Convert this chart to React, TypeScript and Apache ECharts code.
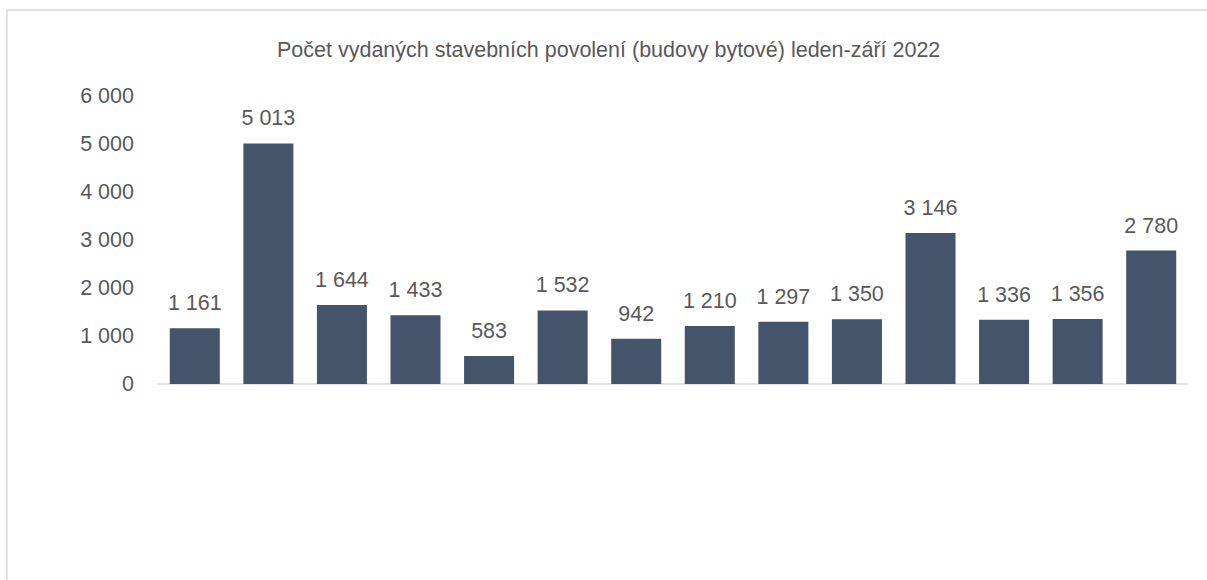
import React, { useEffect, useRef } from "react";
import * as echarts from "echarts";

const TITLE = "Počet vydaných stavebních povolení (budovy bytové) leden-září 2022";
const categories = [
  "Hlavní město Praha",
  "Středočeský kraj",
  "Jihočeský kraj",
  "Plzeňský kraj",
  "Karlovarský kraj",
  "Ústecký kraj",
  "Liberecký kraj",
  "Královéhradecký kraj",
  "Pardubický kraj",
  "Kraj Vysočina",
  "Jihomoravský kraj",
  "Olomoucký kraj",
  "Zlínský kraj",
  "Moravskoslezský kraj",
];
const values = [1161, 5013, 1644, 1433, 583, 1532, 942, 1210, 1297, 1350, 3146, 1336, 1356, 2780];
const yTicks = [0, 1000, 2000, 3000, 4000, 5000, 6000];

const fmt = (v: number) => String(Math.round(v)).replace(/\B(?=(\d{3})+(?!\d))/g, " ");

const FONT = "Liberation Sans";
const TEXT = "#595959";

export default function App() {
  const ref = useRef<HTMLDivElement>(null);
  useEffect(() => {
    if (!ref.current) return;
    const chart = echarts.init(ref.current, undefined, { renderer: "svg" });
    chart.setOption({
      animation: false,
      backgroundColor: "#ffffff",
      title: {
        text: TITLE,
        left: 272,
        top: 34,
        textStyle: { fontFamily: FONT, fontSize: 21.5, fontWeight: "normal", color: TEXT },
      },
      graphic: [
        {
          type: "rect",
          shape: { x: 7, y: 10, width: 1300, height: 700 },
          style: { fill: "none", stroke: "#D9D9D9", lineWidth: 1.5 },
          silent: true,
        },
      ],
      grid: { left: 158, right: 19, top: 96, bottom: 196 },
      xAxis: {
        type: "category",
        data: categories,
        axisLine: { show: true, lineStyle: { color: "#D9D9D9", width: 1.5 } },
        axisTick: { show: false },
        axisLabel: { show: false },
      },
      yAxis: {
        type: "value",
        min: yTicks[0],
        max: yTicks[yTicks.length - 1],
        interval: 1000,
        axisLine: { show: false },
        axisTick: { show: false },
        splitLine: { show: false },
        axisLabel: {
          margin: 24,
          color: TEXT,
          fontFamily: FONT,
          fontSize: 21.5,
          formatter: (v: number) => fmt(v),
        },
      },
      series: [
        {
          type: "bar",
          data: values,
          barCategoryGap: "32%",
          itemStyle: { color: "#44546A" },
          label: {
            show: true,
            position: "top",
            distance: 14,
            color: TEXT,
            fontFamily: FONT,
            fontSize: 21.5,
            formatter: (p: any) => fmt(p.value),
          },
        },
      ],
    });
    return () => chart.dispose();
  }, []);
  return (
    <div
      ref={ref}
      style={{ position: "fixed", left: 0, top: 0, width: 1207, height: 580 }}
    />
  );
}
